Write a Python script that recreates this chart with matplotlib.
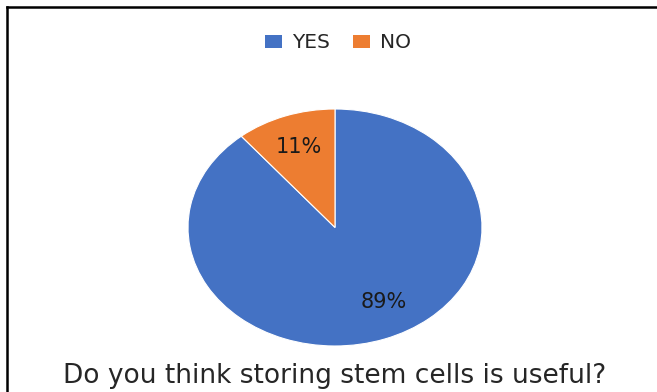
import matplotlib
matplotlib.use('Agg')
import matplotlib.pyplot as plt
from matplotlib.lines import Line2D
from matplotlib.patches import Patch

# Survey answers
answers = ['YES', 'NO']
shares = [89, 11]
colors = ['#4472C4', '#ED7D31']
question = 'Do you think storing stem cells is useful?'

W, H = 657, 392
fig = plt.figure(figsize=(W / 100, H / 100), dpi=100)

# Pie area (stretched horizontally like the original sheet chart)
ax = fig.add_axes([188 / W, (H - 346) / H, 294 / W, 237 / H])
wedges, texts, autotexts = ax.pie(
    shares, colors=colors, startangle=90, counterclock=False,
    autopct='%.0f%%', pctdistance=0.72,
    wedgeprops=dict(edgecolor='white', linewidth=0.8),
    textprops=dict(fontsize=15, family='DejaVu Sans', color='#1a1a1a'))
ax.set_aspect('auto')
ax.set_xlim(-1, 1)
ax.set_ylim(-1, 1)
ax.axis('off')

# nudge the big slice label a bit to the right, as the sheet placed it
x, y = autotexts[0].get_position()
autotexts[0].set_position((x + 0.09, y + 0.05))

# Legend on top
handles = [Patch(facecolor=c, edgecolor='none') for c in colors]
fig.legend(handles, answers, loc='center', ncol=2,
           bbox_to_anchor=(338 / W, 1 - 43 / H), frameon=False,
           handlelength=0.85, handleheight=0.6, handletextpad=0.5,
           columnspacing=1.1, prop=dict(family='DejaVu Sans', size=14.5))
for t in fig.legends[0].get_texts():
    t.set_color('#262626')

# Question below the pie
fig.text(335 / W, 1 - 376 / H, question, ha='center', va='center',
         fontsize=19, family='DejaVu Sans', color='#262626')

# Frame lines along top and left edges
fig.add_artist(Line2D([7 / W, 7 / W], [0, 1 - 7 / H], color='black', lw=1.8,
                      transform=fig.transFigure))
fig.add_artist(Line2D([7 / W, 1], [1 - 7 / H, 1 - 7 / H], color='black', lw=1.8,
                      transform=fig.transFigure))

fig.savefig('out.png', dpi=100)
